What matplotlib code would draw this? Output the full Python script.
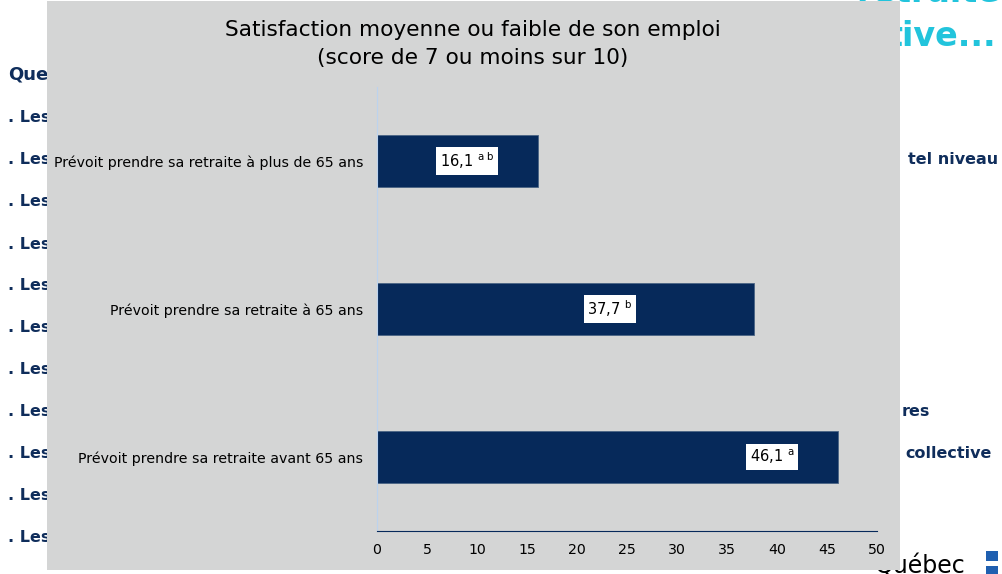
import matplotlib.pyplot as plt
from matplotlib.patches import Rectangle

# Data
categories = ["Prévoit prendre sa retraite avant 65 ans",
              "Prévoit prendre sa retraite à 65 ans",
              "Prévoit prendre sa retraite à plus de 65 ans"]
values = [46.1, 37.7, 16.1]
value_notes = ["a", "b", "a\\ b"]
label_x = [39.5, 23.3, 9.0]
xticks = [0, 5, 10, 15, 20, 25, 30, 35, 40, 45, 50]

navy = "#06295a"
slide_navy = "#0f2d5b"
cyan = "#22c4dc"
panel_gray = "#d4d5d5"

W, H = 1003, 574
fig = plt.figure(figsize=(W / 100, H / 100), dpi=100)
fig.patch.set_facecolor("white")


def px(x, y):
    return x / W, 1 - y / H


# slide behind the chart (mostly hidden)
fig.text(*px(8, 75), "Que", color=slide_navy, fontsize=13, fontweight="bold",
         va="center", zorder=-2)
for yy in [118, 160, 202, 244, 286, 328, 370, 412, 453, 495, 537]:
    fig.text(*px(8, yy), ". Les", color=slide_navy, fontsize=11.5,
             fontweight="bold", va="center", zorder=-2)
fig.text(*px(998, 160), "tel niveau", color=slide_navy, fontsize=11.5,
         fontweight="bold", va="center", ha="right", zorder=-2)
fig.text(*px(930, 411), "res", color=slide_navy, fontsize=11.5,
         fontweight="bold", va="center", ha="right", zorder=-2)
fig.text(*px(992, 453), "collective", color=slide_navy, fontsize=11.5,
         fontweight="bold", va="center", ha="right", zorder=-2)
fig.text(*px(1000, -7), "retraite", color=cyan, fontsize=24,
         fontweight="bold", va="center", ha="right", zorder=-2)
fig.text(*px(996, 36), "tive...", color=cyan, fontsize=24,
         fontweight="bold", va="center", ha="right", zorder=-2)
fig.text(*px(875, 566), "Québec", color="black", fontsize=17,
         va="center", ha="left", zorder=-2)
for yy in [551, 566]:
    fig.patches.append(Rectangle(px(986, yy + 10), 12 / W, 10 / H,
                                 transform=fig.transFigure,
                                 facecolor="#1f5fb0", edgecolor="none",
                                 zorder=-2))

# gray chart panel
fig.patches.append(Rectangle(px(47, 570), 853 / W, 569 / H,
                             transform=fig.transFigure, facecolor=panel_gray,
                             edgecolor="none", zorder=-1))

ax = fig.add_axes([377 / W, 1 - 531 / H, 500 / W, 444 / H])
ax.set_facecolor("none")
ypos = list(range(len(categories)))
ax.barh(ypos, values, height=0.35, color=navy, edgecolor="#4a6485",
        linewidth=0.6)
for y, v, note, lx in zip(ypos, values, value_notes, label_x):
    txt = ("%.1f" % v).replace(".", ",") + r" $^{\mathrm{" + note + "}}$"
    ax.text(lx, y, txt, ha="center", va="center", fontsize=10.5, color="black",
            bbox=dict(facecolor="white", edgecolor="none", pad=2.5))

ax.set_xlim(0, 50)
ax.set_ylim(-0.5, 2.5)
ax.set_xticks(xticks)
ax.set_yticks(ypos)
ax.set_yticklabels(categories)
ax.tick_params(axis="both", length=0, labelsize=10.2)
ax.tick_params(axis="x", pad=9)
ax.tick_params(axis="y", pad=10)
for s in ["top", "right"]:
    ax.spines[s].set_visible(False)
ax.spines["left"].set_color("#bcd3ee")
ax.spines["bottom"].set_color(navy)

fig.text(*px(473, 44), "Satisfaction moyenne ou faible de son emploi\n(score de 7 ou moins sur 10)",
         ha="center", va="center", fontsize=15.6, linespacing=1.45)

fig.savefig("out.png", dpi=100)
